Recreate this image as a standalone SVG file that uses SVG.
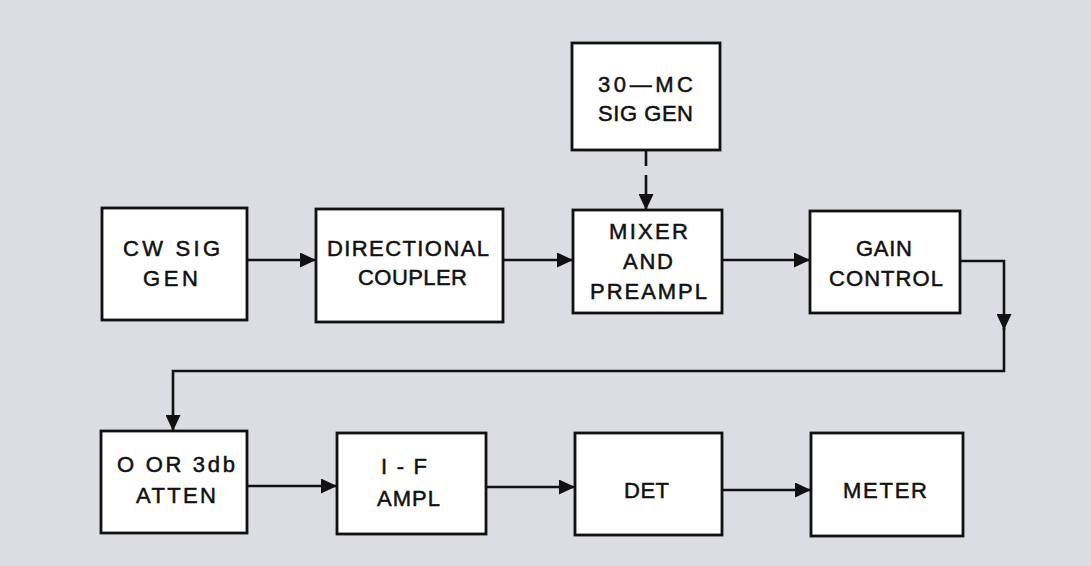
<svg xmlns="http://www.w3.org/2000/svg" width="1091" height="566" viewBox="0 0 1091 566">
<defs>
<marker id="ah" markerUnits="userSpaceOnUse" markerWidth="16" markerHeight="15" refX="16" refY="7.5" orient="auto">
<path d="M0,0 L16,7.5 L0,15 z" fill="#111"/>
</marker>
<style>
.box{fill:#fff;stroke:#111;stroke-width:2.8}
.t{font-family:"Liberation Sans","DejaVu Sans",Arial,sans-serif;font-size:22px;fill:#111;stroke:#111;stroke-width:0.5;text-anchor:start}
.c{fill:none;stroke:#111;stroke-width:2.6;marker-end:url(#ah)}
</style>
</defs>
<rect x="0" y="0" width="1091" height="566" fill="#dcdce3"/>

<g id="connectors">
<path class="c" d="M247,260 H316"/>
<path class="c" d="M503,260 H573"/>
<path class="c" d="M646,150 V210" stroke-dasharray="16 9 60"/>
<path class="c" d="M722,260 H810"/>
<path class="c" d="M960,261 H1004 V330"/>
<path class="c" d="M1004,328 V371 H173 V431"/>
<path class="c" d="M247,486 H337"/>
<path class="c" d="M486,487 H575"/>
<path class="c" d="M722,490 H811"/>
</g>

<g id="cw-sig-gen">
<rect class="box" x="102" y="208" width="145" height="112"/>
<text class="t" x="123" y="256" textLength="97" lengthAdjust="spacing">CW  SIG</text>
<text class="t" x="143" y="286" textLength="55" lengthAdjust="spacing">GEN</text>
</g>
<g id="directional-coupler">
<rect class="box" x="316" y="209" width="187" height="113"/>
<text class="t" x="327" y="256" textLength="162" lengthAdjust="spacing">DIRECTIONAL</text>
<text class="t" x="358" y="285" textLength="109" lengthAdjust="spacing">COUPLER</text>
</g>
<g id="sig-gen-30mc">
<rect class="box" x="572" y="43" width="148" height="107"/>
<text class="t" x="598" y="92" textLength="95" lengthAdjust="spacing">30—MC</text>
<text class="t" x="598" y="121" textLength="95" lengthAdjust="spacing">SIG GEN</text>
</g>
<g id="mixer-preampl">
<rect class="box" x="573" y="210" width="149" height="103"/>
<text class="t" x="609" y="239" textLength="79" lengthAdjust="spacing">MIXER</text>
<text class="t" x="623" y="269" textLength="50" lengthAdjust="spacing">AND</text>
<text class="t" x="590" y="299" textLength="117" lengthAdjust="spacing">PREAMPL</text>
</g>
<g id="gain-control">
<rect class="box" x="810" y="211" width="150" height="102"/>
<text class="t" x="856" y="256" textLength="56" lengthAdjust="spacing">GAIN</text>
<text class="t" x="829" y="286" textLength="114" lengthAdjust="spacing">CONTROL</text>
</g>
<g id="atten">
<rect class="box" x="101" y="431" width="146" height="102"/>
<text class="t" x="117" y="472" textLength="118" lengthAdjust="spacing">O  OR 3db</text>
<text class="t" x="136" y="503" textLength="80" lengthAdjust="spacing">ATTEN</text>
</g>
<g id="if-ampl">
<rect class="box" x="337" y="433" width="149" height="101"/>
<text class="t" x="381" y="474" textLength="46" lengthAdjust="spacing">I-F</text>
<text class="t" x="377" y="506" textLength="63" lengthAdjust="spacing">AMPL</text>
</g>
<g id="det">
<rect class="box" x="575" y="433" width="147" height="102"/>
<text class="t" x="624" y="498" textLength="45" lengthAdjust="spacing">DET</text>
</g>
<g id="meter">
<rect class="box" x="811" y="433" width="152" height="103"/>
<text class="t" x="843" y="498" textLength="84" lengthAdjust="spacing">METER</text>
</g>
</svg>
